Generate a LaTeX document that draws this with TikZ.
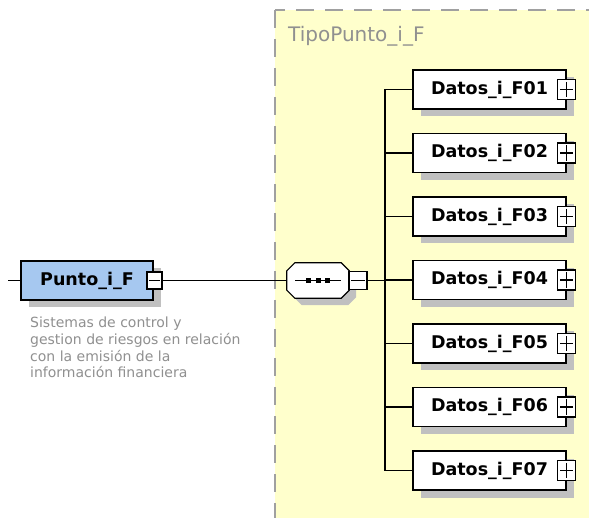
\documentclass[tikz,border=0pt]{standalone}
\usepackage{fontspec}
\setmainfont{DejaVu Sans}
\usetikzlibrary{shadows}
\definecolor{tipofill}{HTML}{FFFFCC}
\definecolor{tipoline}{HTML}{A0A0A0}
\definecolor{puntofill}{HTML}{A6C8F0}
\definecolor{shadowgray}{HTML}{C0C0C0}
\definecolor{notegray}{HTML}{909090}
\tikzset{
    boxshadow/.style={drop shadow={shadow xshift=7.5pt, shadow yshift=-7.5pt, fill=shadowgray, opacity=1}},
    elembox/.style={draw, line width=1.2pt, minimum width=153pt, minimum height=39pt,
        inner sep=0pt, fill=white, font=\fontsize{17.5}{20}\selectfont\bfseries, boxshadow},
    toggle/.style={draw, line width=1.1pt, fill=white, minimum width=18pt, minimum height=20pt, inner sep=0pt},
    seqbox/.style={minimum width=62pt, minimum height=35pt, inner sep=0pt},
    conn/.style={line width=1.1pt}
}
\newcommand\octo[2]{%
    ([shift={(#1+8,#1)}]seq.north west) -- ([shift={(#1-8,#1)}]seq.north east)
    -- ([shift={(#1,#1+8)}]seq.north east) -- ([shift={(#1,#1-8)}]seq.south east)
    -- ([shift={(#1-8,#1)}]seq.south east) -- ([shift={(#1+8,#1)}]seq.south west)
    -- ([shift={(#1,#1-8)}]seq.south west) -- ([shift={(#1,#1+8)}]seq.north west) -- cycle}
\begin{document}
\begin{tikzpicture}[x=1pt,y=-1pt]
    \useasboundingbox (0,0) rectangle (589,518);
    \fill[white] (0,0) rectangle (589,518);
    \draw[tipoline, fill=tipofill, line width=2pt, dash pattern=on 18pt off 11pt] (275,10) rectangle (620,540);
    \node[anchor=base west, text=notegray, font=\fontsize{20}{22}\selectfont, inner sep=0pt] (tipo) at (288,42) {TipoPunto\_i\_F};

    \node[elembox, minimum width=132pt, fill=puntofill] (punto) at (87,280.5) {Punto\_i\_F\hspace{9pt}};
    \node[toggle, minimum width=15pt, minimum height=17pt] (pmin) at (154.5,280.5) {};
    \draw[line width=1.1pt] ([xshift=3pt]pmin.west) -- ([xshift=-3pt]pmin.east);
    \node[anchor=north west, text=notegray, align=left, inner sep=0pt,
        font=\fontsize{14}{16.7}\selectfont] (nota) at (30,317)
        {Sistemas de control y\\gestion de riesgos en relación\\con la emisión de la\\información financiera};
    \coordinate (lstub) at (8,280.5);
    \draw[conn] (lstub) -- (punto.west);

    \node[seqbox] (seq) at (318,280.5) {};
    \fill[shadowgray] \octo{7}{};
    \draw[line width=1.2pt, fill=white] \octo{0}{};
    \draw[line width=1.2pt] ([xshift=-23pt]seq.center) -- ([xshift=23pt]seq.center);
    \foreach \dx in {-9.5,0,9.5}
        \fill ([xshift=\dx pt]seq.center) ++(-2.5,-2.5) rectangle ++(5,5);
    \node[toggle, minimum height=18pt] (smin) at (358,280.5) {};
    \draw[line width=1.1pt] ([xshift=3pt]smin.west) -- ([xshift=-3pt]smin.east);
    \draw[conn] (pmin.east) -- (seq.west);

    \coordinate (spine) at (385,280.5);
    \foreach \i in {1,...,7} {
        \node[elembox] (d\i) at (489.5,{89.5+63.5*(\i-1)}) {Datos\_i\_F0\i\hspace{9pt}};
        \node[toggle] (p\i) at (d\i.east) {};
        \draw[line width=1.1pt] ([xshift=3pt]p\i.west) -- ([xshift=-3pt]p\i.east);
        \draw[line width=1.1pt] ([yshift=-3pt]p\i.north) -- ([yshift=3pt]p\i.south);
        \draw[conn] (d\i.west) -- (d\i.west -| spine);
    }
    \draw[conn] (d1.west -| spine) -- (d7.west -| spine);
    \draw[conn] (smin.east) -- (spine);
\end{tikzpicture}
\end{document}
